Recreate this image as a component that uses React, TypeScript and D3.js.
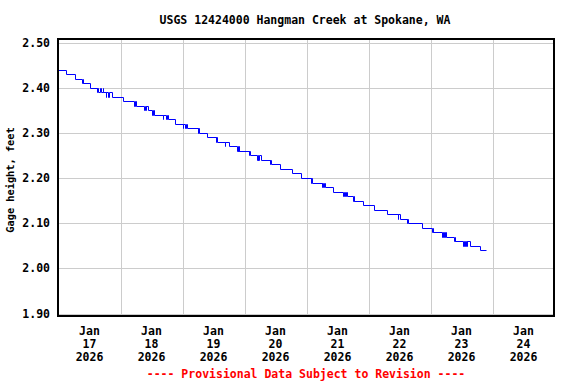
import React from "react";
import * as d3 from "d3";

const title = "USGS 12424000 Hangman Creek at Spokane, WA";
const yLabel = "Gage height, feet";
const footer = "---- Provisional Data Subject to Revision ----";

const yTicks = [1.9, 2.0, 2.1, 2.2, 2.3, 2.4, 2.5];
const dayTicks = [
  "2026-01-17", "2026-01-18", "2026-01-19", "2026-01-20",
  "2026-01-21", "2026-01-22", "2026-01-23", "2026-01-24", "2026-01-25",
];

// 15-minute readings, only where the value changes
const readings: [string, number][] = [
  ["2026-01-17 00:00", 2.44], ["2026-01-17 03:15", 2.43], ["2026-01-17 06:45", 2.42],
  ["2026-01-17 09:15", 2.41], ["2026-01-17 09:30", 2.42], ["2026-01-17 09:45", 2.41],
  ["2026-01-17 12:15", 2.40], ["2026-01-17 15:00", 2.39], ["2026-01-17 15:15", 2.40],
  ["2026-01-17 15:30", 2.39], ["2026-01-17 16:15", 2.40], ["2026-01-17 16:30", 2.39],
  ["2026-01-17 17:15", 2.40], ["2026-01-17 17:30", 2.39], ["2026-01-17 18:30", 2.38],
  ["2026-01-17 18:45", 2.39], ["2026-01-17 19:30", 2.38], ["2026-01-17 19:45", 2.39],
  ["2026-01-17 20:45", 2.38], ["2026-01-18 01:15", 2.37], ["2026-01-18 05:30", 2.36],
  ["2026-01-18 05:45", 2.37], ["2026-01-18 06:00", 2.36], ["2026-01-18 09:15", 2.35],
  ["2026-01-18 09:30", 2.36], ["2026-01-18 10:00", 2.35], ["2026-01-18 10:15", 2.36],
  ["2026-01-18 10:45", 2.35], ["2026-01-18 12:30", 2.34], ["2026-01-18 12:45", 2.35],
  ["2026-01-18 13:00", 2.34], ["2026-01-18 16:30", 2.33], ["2026-01-18 16:45", 2.34],
  ["2026-01-18 17:45", 2.33], ["2026-01-18 18:00", 2.34], ["2026-01-18 18:30", 2.33],
  ["2026-01-18 21:15", 2.32], ["2026-01-19 00:15", 2.31], ["2026-01-19 00:30", 2.32],
  ["2026-01-19 01:15", 2.31], ["2026-01-19 01:30", 2.32], ["2026-01-19 01:45", 2.31],
  ["2026-01-19 06:00", 2.30], ["2026-01-19 06:15", 2.31], ["2026-01-19 06:30", 2.30],
  ["2026-01-19 09:30", 2.29], ["2026-01-19 13:00", 2.28], ["2026-01-19 13:15", 2.29],
  ["2026-01-19 13:30", 2.28], ["2026-01-19 16:30", 2.27], ["2026-01-19 16:45", 2.28],
  ["2026-01-19 18:15", 2.27], ["2026-01-19 21:15", 2.26], ["2026-01-19 21:30", 2.27],
  ["2026-01-19 21:45", 2.26], ["2026-01-19 22:00", 2.27], ["2026-01-19 22:15", 2.26],
  ["2026-01-20 01:45", 2.25], ["2026-01-20 02:00", 2.26], ["2026-01-20 02:15", 2.25],
  ["2026-01-20 05:00", 2.24], ["2026-01-20 05:15", 2.25], ["2026-01-20 05:30", 2.24],
  ["2026-01-20 05:45", 2.25], ["2026-01-20 06:45", 2.24], ["2026-01-20 10:00", 2.23],
  ["2026-01-20 10:15", 2.24], ["2026-01-20 10:30", 2.23], ["2026-01-20 14:00", 2.22],
  ["2026-01-20 18:45", 2.21], ["2026-01-20 22:15", 2.20], ["2026-01-21 01:45", 2.19],
  ["2026-01-21 02:00", 2.20], ["2026-01-21 02:15", 2.19], ["2026-01-21 06:00", 2.18],
  ["2026-01-21 06:15", 2.19], ["2026-01-21 06:45", 2.18], ["2026-01-21 07:00", 2.19],
  ["2026-01-21 07:15", 2.18], ["2026-01-21 10:30", 2.17], ["2026-01-21 14:30", 2.16],
  ["2026-01-21 14:45", 2.17], ["2026-01-21 15:15", 2.16], ["2026-01-21 15:30", 2.17],
  ["2026-01-21 16:00", 2.16], ["2026-01-21 18:15", 2.15], ["2026-01-21 18:30", 2.16],
  ["2026-01-21 18:45", 2.15], ["2026-01-21 22:00", 2.14], ["2026-01-22 02:15", 2.13],
  ["2026-01-22 07:30", 2.12], ["2026-01-22 11:30", 2.11], ["2026-01-22 11:45", 2.12],
  ["2026-01-22 12:15", 2.11], ["2026-01-22 15:00", 2.10], ["2026-01-22 15:15", 2.11],
  ["2026-01-22 15:30", 2.10], ["2026-01-22 21:00", 2.09], ["2026-01-23 00:45", 2.08],
  ["2026-01-23 01:00", 2.09], ["2026-01-23 01:15", 2.08], ["2026-01-23 04:45", 2.07],
  ["2026-01-23 05:00", 2.08], ["2026-01-23 05:30", 2.07], ["2026-01-23 05:45", 2.08],
  ["2026-01-23 06:00", 2.07], ["2026-01-23 09:15", 2.06], ["2026-01-23 09:30", 2.07],
  ["2026-01-23 09:45", 2.06], ["2026-01-23 12:45", 2.05], ["2026-01-23 13:00", 2.06],
  ["2026-01-23 13:30", 2.05], ["2026-01-23 13:45", 2.06], ["2026-01-23 14:15", 2.05],
  ["2026-01-23 14:30", 2.06], ["2026-01-23 15:30", 2.05], ["2026-01-23 19:15", 2.04],
  ["2026-01-23 21:45", 2.04],
];

const W = 576;
const H = 384;
const left = 58;
const right = 554;
const top = 39;
const bottom = 316;
const font = "'DejaVu Sans Mono', monospace";

const parseTime = d3.timeParse("%Y-%m-%d %H:%M");
const parseDay = d3.timeParse("%Y-%m-%d");

export default function App() {
  const days = dayTicks.map((d) => parseDay(d) as Date);
  const x = d3
    .scaleTime()
    .domain([days[0], days[days.length - 1]])
    .range([left + 0.5, right + 0.5]);
  const y = d3.scaleLinear().domain([1.9, 2.5]).range([313.5, 42.5]);

  const pts = readings.map(([t, v]) => ({ t: parseTime(t) as Date, v }));
  // snap to pixel centres so steps are crisp and short blips show as spikes
  const line = d3
    .line<{ t: Date; v: number }>()
    .x((d) => Math.floor(x(d.t)) + 0.5)
    .y((d) => Math.round(y(d.v)) + 0.5)
    .curve(d3.curveStepAfter);

  const fmt = d3.format(".2f");

  return (
    <svg
      width={W}
      height={H}
      style={{ position: "absolute", left: 0, top: 0, background: "#fff" }}
      fontFamily={font}
      fontWeight="bold"
    >
      <text x={305} y={24} textAnchor="middle" fontSize={11.5} fill="#000">
        {title}
      </text>

      {yTicks.map((t) => (
        <line
          key={"gy" + t}
          x1={left}
          x2={right}
          y1={Math.round(y(t)) + 0.5}
          y2={Math.round(y(t)) + 0.5}
          stroke="#cccccc"
          strokeWidth={1}
        />
      ))}
      {days.slice(1, -1).map((d, i) => (
        <line
          key={"gx" + i}
          x1={Math.round(x(d)) + 0.5}
          x2={Math.round(x(d)) + 0.5}
          y1={top}
          y2={bottom}
          stroke="#cccccc"
          strokeWidth={1}
        />
      ))}

      <path d={line(pts) ?? ""} fill="none" stroke="#0000ff" strokeWidth={1} />

      <rect
        x={left}
        y={top}
        width={right - left}
        height={bottom - top}
        fill="none"
        stroke="#000"
        strokeWidth={2}
      />

      {yTicks.map((t) => (
        <text
          key={"ty" + t}
          x={50}
          y={y(t)}
          dy="0.36em"
          textAnchor="end"
          fontSize={11.5}
          fill="#000"
        >
          {fmt(t)}
        </text>
      ))}

      <text
        transform={`translate(14,180) rotate(-90)`}
        textAnchor="middle"
        fontSize={10.3}
        fill="#000"
      >
        {yLabel}
      </text>

      {days.slice(0, -1).map((d, i) => {
        const cx = x(d3.timeHour.offset(d, 12));
        return (
          <text key={"tx" + i} textAnchor="middle" fontSize={11.5} fill="#000">
            <tspan x={cx} y={335}>{d3.timeFormat("%b")(d)}</tspan>
            <tspan x={cx} y={348}>{d3.timeFormat("%d")(d)}</tspan>
            <tspan x={cx} y={361}>{d3.timeFormat("%Y")(d)}</tspan>
          </text>
        );
      })}

      <text x={306} y={378} textAnchor="middle" fontSize={11.5} fill="#ff0000">
        {footer}
      </text>
    </svg>
  );
}
